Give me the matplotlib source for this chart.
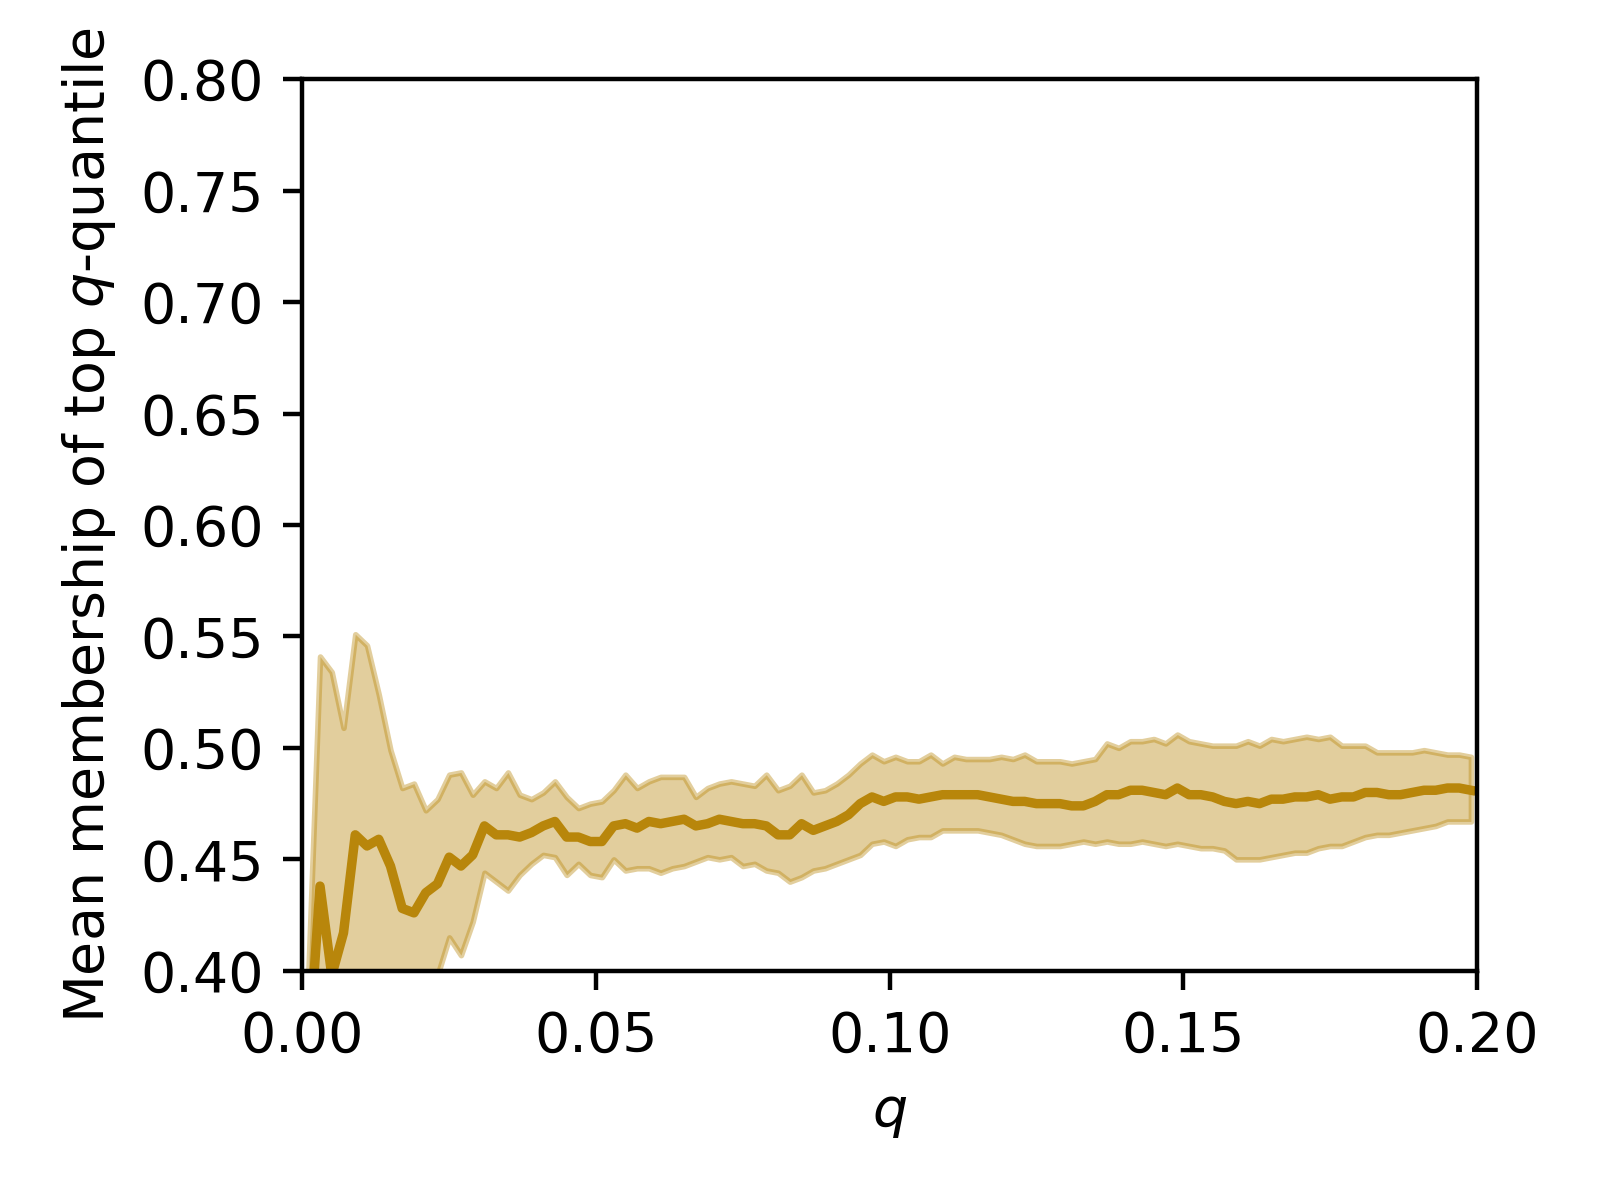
import numpy as np
import matplotlib
matplotlib.use("Agg")
import matplotlib.pyplot as plt

# q grid (steps of 0.002 starting at 0.001)
q = 0.001 + 0.002 * np.arange(100)

mean_membership = [
    0.360, 0.438, 0.398, 0.417, 0.461, 0.456, 0.459, 0.447, 0.428, 0.426,
    0.435, 0.439, 0.451, 0.447, 0.452, 0.465, 0.461, 0.461, 0.460, 0.462,
    0.465, 0.467, 0.460, 0.460, 0.458, 0.458, 0.465, 0.466, 0.464, 0.467,
    0.466, 0.467, 0.468, 0.465, 0.466, 0.468, 0.467, 0.466, 0.466, 0.465,
    0.461, 0.461, 0.466, 0.463, 0.465, 0.467, 0.470, 0.475, 0.478, 0.476,
    0.478, 0.478, 0.477, 0.478, 0.479, 0.479, 0.479, 0.479, 0.478, 0.477,
    0.476, 0.476, 0.475, 0.475, 0.475, 0.474, 0.474, 0.476, 0.479, 0.479,
    0.481, 0.481, 0.480, 0.479, 0.482, 0.479, 0.479, 0.478, 0.476, 0.475,
    0.476, 0.475, 0.477, 0.477, 0.478, 0.478, 0.479, 0.477, 0.478, 0.478,
    0.480, 0.480, 0.479, 0.479, 0.480, 0.481, 0.481, 0.482, 0.482, 0.481,
]

upper = [
    0.398, 0.541, 0.534, 0.509, 0.551, 0.546, 0.524, 0.499, 0.482, 0.484,
    0.472, 0.477, 0.488, 0.489, 0.479, 0.485, 0.482, 0.489, 0.479, 0.477,
    0.480, 0.485, 0.478, 0.473, 0.475, 0.476, 0.481, 0.488, 0.482, 0.485,
    0.487, 0.487, 0.487, 0.478, 0.482, 0.484, 0.485, 0.484, 0.483, 0.488,
    0.481, 0.483, 0.488, 0.480, 0.481, 0.484, 0.488, 0.493, 0.497, 0.494,
    0.496, 0.494, 0.494, 0.497, 0.493, 0.496, 0.495, 0.495, 0.495, 0.496,
    0.495, 0.497, 0.494, 0.494, 0.494, 0.493, 0.494, 0.495, 0.502, 0.500,
    0.503, 0.503, 0.504, 0.502, 0.506, 0.503, 0.502, 0.501, 0.501, 0.501,
    0.503, 0.501, 0.504, 0.503, 0.504, 0.505, 0.504, 0.505, 0.501, 0.501,
    0.501, 0.498, 0.498, 0.498, 0.498, 0.499, 0.498, 0.497, 0.497, 0.496,
]

lower = [
    0.250, 0.330, 0.330, 0.320, 0.370, 0.365, 0.370, 0.370, 0.375, 0.380,
    0.385, 0.398, 0.415, 0.407, 0.422, 0.444, 0.440, 0.436, 0.443, 0.448,
    0.452, 0.451, 0.443, 0.448, 0.443, 0.442, 0.450, 0.445, 0.446, 0.446,
    0.444, 0.446, 0.447, 0.449, 0.451, 0.450, 0.451, 0.447, 0.448, 0.445,
    0.444, 0.440, 0.442, 0.445, 0.446, 0.448, 0.450, 0.452, 0.457, 0.458,
    0.456, 0.459, 0.460, 0.460, 0.463, 0.463, 0.463, 0.463, 0.462, 0.461,
    0.459, 0.457, 0.456, 0.456, 0.456, 0.457, 0.458, 0.457, 0.458, 0.457,
    0.457, 0.458, 0.457, 0.456, 0.457, 0.456, 0.455, 0.455, 0.454, 0.450,
    0.450, 0.450, 0.451, 0.452, 0.453, 0.453, 0.455, 0.456, 0.456, 0.458,
    0.460, 0.461, 0.461, 0.462, 0.463, 0.464, 0.465, 0.467, 0.467, 0.467,
]

fig, ax = plt.subplots(figsize=(4, 3), dpi=400)
fig.subplots_adjust(left=0.189, right=0.923, bottom=0.191, top=0.934)

ax.fill_between(q, lower, upper, color="darkgoldenrod", alpha=0.4)
ax.plot(q, mean_membership, color="darkgoldenrod", lw=1.7)

ax.set_xlim(0, 0.2)
ax.set_ylim(0.4, 0.8)
ax.set_xticks([0.0, 0.05, 0.10, 0.15, 0.20])
ax.set_xlabel("$q$")
ax.set_ylabel("Mean membership of top $q$-quantile")

fig.savefig("out.png", dpi=400)
